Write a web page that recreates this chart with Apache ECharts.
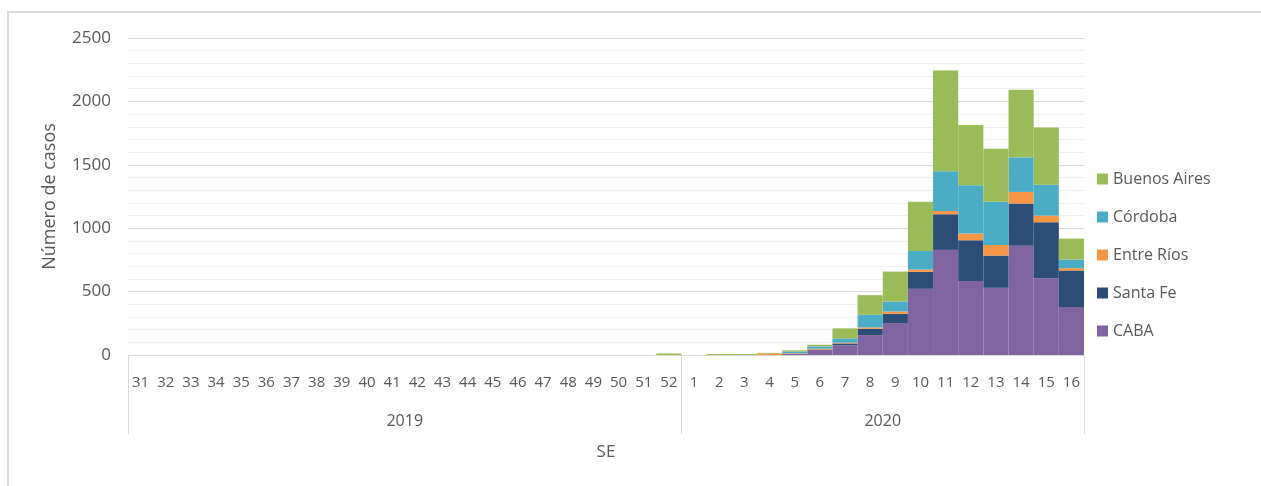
<!DOCTYPE html>
<html>
<head>
<meta charset="utf-8">
<script src="https://cdn.jsdelivr.net/npm/echarts@6/dist/echarts.min.js"></script>
<style>
html, body { margin: 0; padding: 0; background: #fff; }
#container { width: 1261px; height: 486px; }
</style>
</head>
<body>
<div id="container"></div>
<script>
// semanas epidemiologicas
var weeks2019 = ['31','32','33','34','35','36','37','38','39','40','41','42','43','44','45','46','47','48','49','50','51','52'];
var weeks2020 = ['1','2','3','4','5','6','7','8','9','10','11','12','13','14','15','16'];
var years = ['2019', '2020'];

// casos por provincia (2019 sem 31-52, luego 2020 sem 1-16)
var caba       = [0,0,0,0,0,0,0,0,0,0,0,0,0,0,0,0,0,0,0,0,0,0,  0,0,0,0,8,40,76,157,252,522,829,583,530,861,606,378];
var santaFe    = [0,0,0,0,0,0,0,0,0,0,0,0,0,0,0,0,0,0,0,0,0,0,  0,0,0,0,2,3,15,50,73,134,281,322,254,333,441,288];
var entreRios  = [0,0,0,0,0,0,0,0,0,0,0,0,0,0,0,0,0,0,0,0,0,0,  0,0,0,12,4,7,6,11,18,18,26,53,84,92,52,19];
var cordoba    = [0,0,0,0,0,0,0,0,0,0,0,0,0,0,0,0,0,0,0,0,0,0,  0,0,0,0,13,18,34,99,79,147,313,381,341,273,244,68];
var buenosAires= [0,0,0,0,0,0,0,0,0,0,0,0,0,0,0,0,0,0,0,0,0,12, 0,8,8,5,10,13,79,155,236,388,795,474,418,532,452,165];

var dom = document.getElementById('container');
var myChart = echarts.init(dom);

var txt = '#595959';
var font = 'Open Sans';
var cats = weeks2019.concat(weeks2020);
var yearCounts = [weeks2019.length, weeks2020.length];

// limites y centros de cada año sobre el eje 0..n
var bounds = [0];
var centers = [];
for (var i = 0; i < yearCounts.length; i++) {
    centers.push(bounds[i] + yearCounts[i] / 2);
    bounds.push(bounds[i] + yearCounts[i]);
}

function bar(name, data, color) {
    return {
        name: name,
        type: 'bar',
        stack: 'casos',
        data: data,
        barCategoryGap: 0,
        itemStyle: { color: color },
        emphasis: { disabled: true }
    };
}

var option = {
    animation: false,
    textStyle: { fontFamily: font },
    graphic: [{
        type: 'rect',
        shape: { x: 8, y: 12, width: 1300, height: 500 },
        style: { fill: null, stroke: '#d9d9d9', lineWidth: 2 },
        silent: true
    }],
    grid: { left: 128, right: 177, top: 38, bottom: 131 },
    legend: {
        orient: 'vertical',
        left: 1092,
        top: 166,
        itemGap: 22,
        itemWidth: 11,
        itemHeight: 11,
        icon: 'rect',
        textStyle: { color: txt, fontSize: 16, fontFamily: font },
        data: ['Buenos Aires', 'Córdoba', 'Entre Ríos', 'Santa Fe', 'CABA']
    },
    xAxis: [{
        type: 'category',
        data: cats,
        axisLine: { lineStyle: { color: '#d9d9d9' } },
        axisTick: { show: false },
        axisLabel: { color: txt, fontSize: 15, margin: 20, interval: 0, fontFamily: font },
        name: 'SE',
        nameLocation: 'middle',
        nameGap: 89,
        nameTextStyle: { color: txt, fontSize: 17, fontFamily: font }
    }, {
        type: 'value',
        position: 'bottom',
        offset: 79,
        min: 0,
        max: cats.length,
        axisLine: { show: false },
        splitLine: { show: false },
        axisTick: {
            show: true,
            inside: true,
            length: 79,
            customValues: bounds,
            lineStyle: { color: '#d9d9d9' }
        },
        axisLabel: {
            customValues: centers,
            verticalAlign: 'middle',
            margin: -13,
            color: txt,
            fontSize: 16,
            fontFamily: font,
            formatter: function (v) {
                return years[centers.indexOf(v)] || '';
            }
        }
    }],
    yAxis: {
        type: 'value',
        min: 0,
        max: 2500,
        interval: 500,
        name: 'Número de casos',
        nameLocation: 'middle',
        nameGap: 69,
        nameTextStyle: { color: txt, fontSize: 18, fontFamily: font },
        axisLine: { show: false },
        axisTick: { show: false },
        axisLabel: {
            color: txt, fontSize: 17, margin: 17, fontFamily: font,
            formatter: function (v) { return String(v); }
        },
        splitLine: { lineStyle: { color: '#d9d9d9' } },
        minorTick: { show: false, splitNumber: 5 },
        minorSplitLine: { show: true, lineStyle: { color: '#efefef' } }
    },
    series: [
        bar('CABA', caba, '#8064A2'),
        bar('Santa Fe', santaFe, '#2C4D75'),
        bar('Entre Ríos', entreRios, '#F79646'),
        bar('Córdoba', cordoba, '#4BACC6'),
        bar('Buenos Aires', buenosAires, '#9BBB59')
    ]
};

myChart.setOption(option);
</script>
</body>
</html>
